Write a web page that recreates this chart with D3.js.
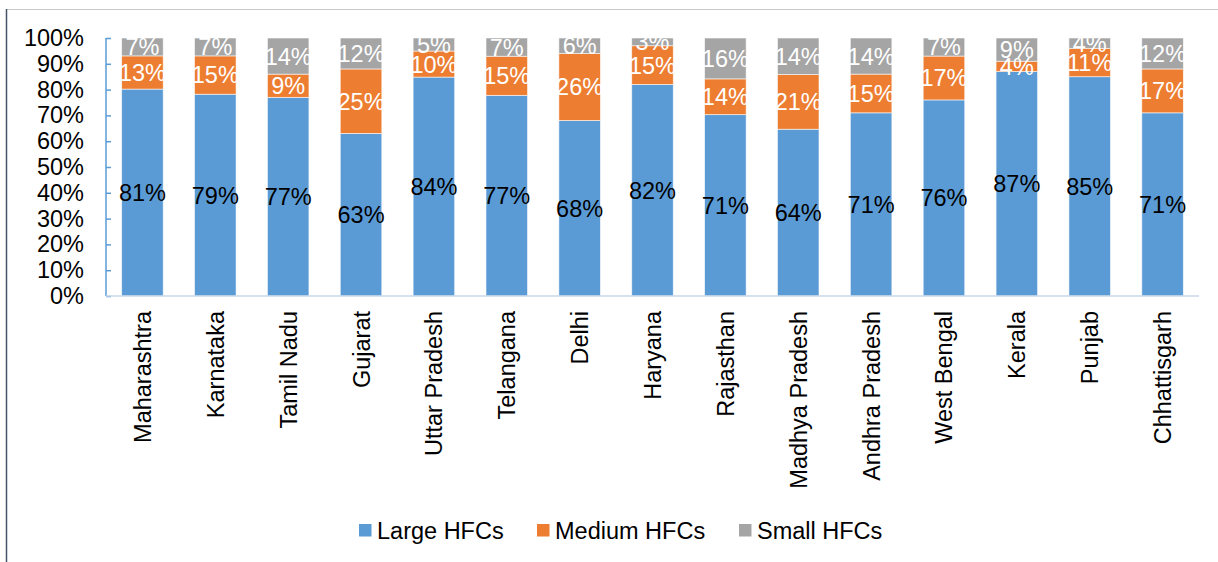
<!DOCTYPE html>
<html>
<head>
<meta charset="utf-8">
<script src="https://cdn.jsdelivr.net/npm/d3@7"></script>
<style>
  html, body { margin: 0; padding: 0; background: #fff; }
  svg { display: block; font-family: "Liberation Sans", Arial, sans-serif; }
</style>
</head>
<body>
<svg id="chart" width="1218" height="562"></svg>
<script>
// Share of housing finance companies by size, per state
const states = ["Maharashtra", "Karnataka", "Tamil Nadu", "Gujarat", "Uttar Pradesh", "Telangana",
  "Delhi", "Haryana", "Rajasthan", "Madhya Pradesh", "Andhra Pradesh", "West Bengal",
  "Kerala", "Punjab", "Chhattisgarh"];
const largeHFCs  = [81, 79, 77, 63, 84, 77, 68, 82, 71, 64, 71, 76, 87, 85, 71];
const mediumHFCs = [13, 15, 9, 25, 10, 15, 26, 15, 14, 21, 15, 17, 4, 11, 17];
const smallHFCs  = [7, 7, 14, 12, 5, 7, 6, 3, 16, 14, 14, 7, 9, 4, 12];
const seriesNames = ["Large HFCs", "Medium HFCs", "Small HFCs"];
const yTicks = [0, 0.1, 0.2, 0.3, 0.4, 0.5, 0.6, 0.7, 0.8, 0.9, 1.0];

const colors = ["#5B9BD5", "#ED7D31", "#A5A5A5"];
const labelColors = ["#000", "#fff", "#fff"];
const keys = ["large", "medium", "small"];
const FS = 23.5;

const rows = states.map((s, i) => ({
  state: s, large: largeHFCs[i], medium: mediumHFCs[i], small: smallHFCs[i]
}));

const svg = d3.select("#chart");
const W = 1218, H = 562;
const plot = { left: 106, right: 1199, top: 38, bottom: 296 };

// outer frame edges
svg.append("line").attr("x1", 6).attr("x2", W).attr("y1", 9.5).attr("y2", 9.5)
  .attr("stroke", "#C8C8C8").attr("stroke-width", 1);
svg.append("line").attr("x1", 6.5).attr("x2", 6.5).attr("y1", 9).attr("y2", H)
  .attr("stroke", "#44546A").attr("stroke-width", 1.5);

const x = d3.scaleBand().domain(states).range([plot.left, plot.right]).paddingInner(0.43).paddingOuter(0.215);
const y = d3.scaleLinear().domain([0, 1]).range([plot.bottom, plot.top]);

const stack = d3.stack().keys(keys).offset(d3.stackOffsetExpand);
const layers = stack(rows);

const g = svg.append("g");
layers.forEach((layer, li) => {
  g.selectAll(null).data(layer).join("rect")
    .attr("x", d => x(d.data.state))
    .attr("width", x.bandwidth())
    .attr("y", d => y(d[1]))
    .attr("height", d => y(d[0]) - y(d[1]))
    .attr("fill", colors[li])
    .attr("stroke", "#fff").attr("stroke-width", 0.8).attr("stroke-opacity", 0.7);
});

// value labels centred in each segment
layers.forEach((layer, li) => {
  g.selectAll(null).data(layer).join("text")
    .attr("x", d => x(d.data.state) + x.bandwidth() / 2)
    .attr("y", d => (y(d[0]) + y(d[1])) / 2)
    .attr("dy", "0.36em")
    .attr("text-anchor", "middle")
    .attr("font-size", FS)
    .attr("fill", labelColors[li])
    .text(d => d.data[keys[li]] + "%");
});

// y axis
const yAxis = d3.axisLeft(y).tickValues(yTicks).tickFormat(d3.format(".0%")).tickSize(-5).tickPadding(22);
const ya = svg.append("g").attr("transform", `translate(${plot.left},0)`).call(yAxis);
ya.select(".domain").attr("stroke", "#5B9BD5").attr("stroke-width", 1.5).attr("d", `M0,${plot.top}V${plot.bottom}`);
ya.selectAll(".tick line").attr("stroke", "#5B9BD5").attr("stroke-width", 1.5);
ya.selectAll(".tick text").attr("font-size", FS).attr("fill", "#000")
  .attr("font-family", "Liberation Sans, Arial, sans-serif");

// x axis
const xAxis = d3.axisBottom(x).tickSize(0).tickPadding(0);
const xa = svg.append("g").attr("transform", `translate(0,${plot.bottom})`).call(xAxis);
xa.select(".domain").attr("stroke", "#C9D7EA").attr("stroke-width", 1.5).attr("d", `M${plot.left},0H${plot.right}`);
xa.selectAll(".tick text")
  .attr("font-size", FS).attr("fill", "#000")
  .attr("font-family", "Liberation Sans, Arial, sans-serif")
  .attr("text-anchor", "end")
  .attr("transform", "translate(0,15) rotate(-90)")
  .attr("x", 0).attr("y", 0).attr("dy", "0.36em");

// legend
const legendX = [359, 537, 739];
const lg = svg.append("g");
seriesNames.forEach((name, i) => {
  lg.append("rect").attr("x", legendX[i]).attr("y", 524).attr("width", 12.5).attr("height", 12.5).attr("fill", colors[i]);
  lg.append("text").attr("x", legendX[i] + 18).attr("y", 538.5)
    .attr("font-size", FS).attr("fill", "#000").text(name);
});
</script>
</body>
</html>
